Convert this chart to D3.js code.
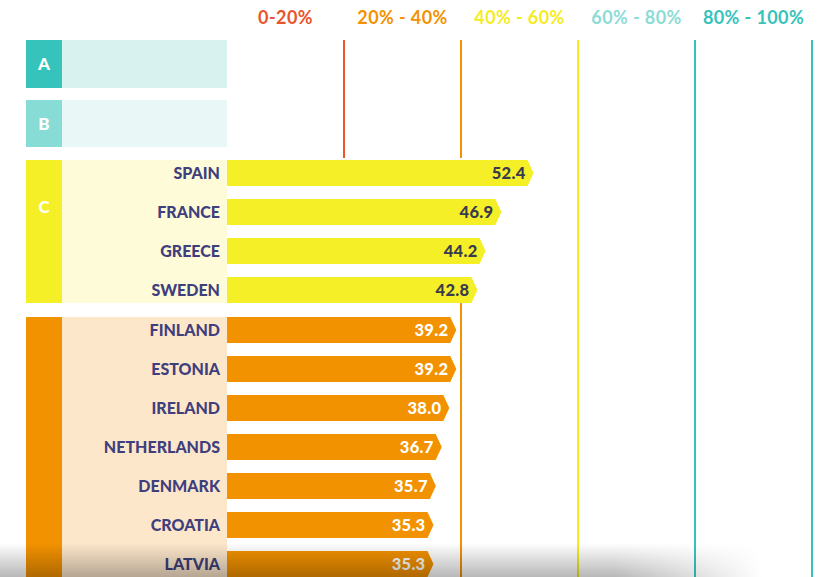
<!DOCTYPE html>
<html><head><meta charset="utf-8">
<script src="https://cdn.jsdelivr.net/npm/d3@7"></script>
<style>html,body{margin:0;padding:0;background:#fff;}svg{display:block;}</style>
</head><body>
<div id="chart"></div>
<script>
// ---- data ----
const bandLabels = ["0-20%", "20% - 40%", "40% - 60%", "60% - 80%", "80% - 100%"];
const bandEdges = [20, 40, 60, 80, 100];
const groupLetters = ["A", "B", "C", ""];
const groupC = ["SPAIN", "FRANCE", "GREECE", "SWEDEN"];
const valuesC = [52.4, 46.9, 44.2, 42.8];
const groupD = ["FINLAND", "ESTONIA", "IRELAND", "NETHERLANDS", "DENMARK", "CROATIA", "LATVIA"];
const valuesD = [39.2, 39.2, 38.0, 36.7, 35.7, 35.3, 35.3];

// ---- style ----
const W = 820, H = 577;
const bandColors = ["#e9542b", "#f39200", "#f5ec1f", "#8ddbd5", "#35c3bb"];
const lineColors = ["#e9542b", "#f39200", "#f5ec1f", "#35c3bb", "#35c3bb"];
const groupStyle = [
  {dark: "#35c3bb", light: "#d8f2f0", bar: null, valueColor: null},
  {dark: "#88dcd6", light: "#e9f8f7", bar: null, valueColor: null},
  {dark: "#f5ef28", light: "#fdfbd8", bar: "#f5ef28", valueColor: "#3a3a4e"},
  {dark: "#f39200", light: "#fde7cb", bar: "#f39200", valueColor: "#ffffff"}
];
const labelColor = "#403f7d";

const x = d3.scaleLinear().domain([0, 100]).range([227, 812]);
const rowStep = 39, barH = 26;

const groups = [
  {letter: groupLetters[0], names: [], values: [], top: 40, h: 48},
  {letter: groupLetters[1], names: [], values: [], top: 100, h: 47},
  {letter: groupLetters[2], names: groupC, values: valuesC},
  {letter: groupLetters[3], names: groupD, values: valuesD}
];
groups[2].top = 160; groups[2].h = groupC.length * rowStep - (rowStep - barH);
groups[3].top = groups[2].top + groups[2].h + 14; groups[3].h = groupD.length * rowStep - (rowStep - barH);
groups.forEach((g, i) => { g.style = groupStyle[i]; g.max = g.values.length ? d3.max(g.values) : 0; });

const svg = d3.select("#chart").append("svg").attr("width", W).attr("height", H)
  .style("font-family", "Lato, 'Open Sans', sans-serif");

// header labels
svg.append("g").selectAll("text").data(bandLabels).join("text")
  .attr("x", (d, i) => (x(bandEdges[i] - 20) + x(bandEdges[i])) / 2)
  .attr("y", 23.5)
  .attr("text-anchor", "middle")
  .attr("fill", (d, i) => bandColors[i])
  .style("font-size", "18px").style("font-weight", 700).style("letter-spacing", "0.4px")
  .text(d => d);

// vertical threshold lines (hidden where a group's bars cover them)
const lineTop = 40, lineBottom = H;
bandEdges.forEach((edge, i) => {
  const covering = groups.filter(g => g.max >= edge);
  let segs = [];
  if (covering.length === 0) segs.push([lineTop, lineBottom]);
  else {
    const first = covering[0], last = covering[covering.length - 1];
    segs.push([lineTop, first.top - 2]);
    const endY = last.top + last.h;
    if (last !== groups[groups.length - 1]) segs.push([endY, lineBottom]);
  }
  svg.append("g").selectAll("line").data(segs).join("line")
    .attr("x1", x(edge)).attr("x2", x(edge))
    .attr("y1", d => d[0]).attr("y2", d => d[1])
    .attr("stroke", lineColors[i]).attr("stroke-width", 2);
});

// group backgrounds
const gg = svg.append("g").selectAll("g").data(groups).join("g");
gg.append("rect").attr("x", 62).attr("y", d => d.top).attr("width", x(0) - 62).attr("height", d => d.h)
  .attr("fill", d => d.style.light);
gg.append("rect").attr("x", 26).attr("y", d => d.top).attr("width", 36).attr("height", d => d.h)
  .attr("fill", d => d.style.dark);
gg.append("text").attr("x", 44).attr("y", d => d.top + Math.min(d.h / 2, 47))
  .attr("dy", "0.36em").attr("text-anchor", "middle").attr("fill", "#fff")
  .style("font-size", "17px").style("font-weight", 900).text(d => d.letter);

// bars
const arrow = 6;
groups.filter(g => g.values.length).forEach(g => {
  const rows = g.names.map((n, j) => ({name: n, value: g.values[j], y: g.top + j * rowStep}));
  const rg = svg.append("g").selectAll("g").data(rows).join("g");
  rg.append("path")
    .attr("d", d => {
      const x0 = x(0), x1 = x(d.value), y0 = d.y, y1 = d.y + barH;
      return `M${x0},${y0}H${x1 - arrow}L${x1},${(y0 + y1) / 2}L${x1 - arrow},${y1}H${x0}Z`;
    })
    .attr("fill", g.style.bar);
  rg.append("text").attr("x", x(0) - 7).attr("y", d => d.y + barH / 2).attr("dy", "0.36em")
    .attr("text-anchor", "end").attr("fill", labelColor)
    .style("font-size", "16px").style("font-weight", 900).text(d => d.name);
  rg.append("text").attr("x", d => x(d.value) - 8).attr("y", d => d.y + barH / 2).attr("dy", "0.36em")
    .attr("text-anchor", "end").attr("fill", g.style.valueColor)
    .style("font-size", "16.5px").style("font-weight", 900).style("letter-spacing", "0.3px")
    .text(d => d.value.toFixed(1));
});

// bottom shadow (photo artifact)
const defs = svg.append("defs");
const vg = defs.append("linearGradient").attr("id", "vshade").attr("x1", 0).attr("x2", 0).attr("y1", 0).attr("y2", 1);
vg.append("stop").attr("offset", "0%").attr("stop-color", "#000").attr("stop-opacity", 0);
vg.append("stop").attr("offset", "100%").attr("stop-color", "#000").attr("stop-opacity", 0.28);
const hg = defs.append("linearGradient").attr("id", "hfade").attr("x1", 0).attr("x2", 1).attr("y1", 0).attr("y2", 0);
hg.append("stop").attr("offset", "0.75").attr("stop-color", "#fff").attr("stop-opacity", 1);
hg.append("stop").attr("offset", "0.93").attr("stop-color", "#fff").attr("stop-opacity", 0);
defs.append("mask").attr("id", "hmask").append("rect").attr("x", 0).attr("y", 540).attr("width", W).attr("height", 40).attr("fill", "url(#hfade)");
svg.append("rect").attr("x", 0).attr("y", 543).attr("width", W).attr("height", H - 543)
  .attr("fill", "url(#vshade)").attr("mask", "url(#hmask)");
</script>
</body></html>
